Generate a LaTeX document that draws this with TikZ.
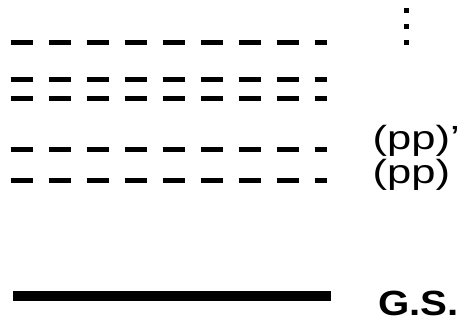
\documentclass[tikz,border=0pt]{standalone}
\usepackage{fontspec}
\setmainfont{Liberation Sans}
\newfontfamily\ppfont[FakeStretch=1.3]{Liberation Sans}
\newfontfamily\gsfont[FakeStretch=1.15]{Liberation Sans}
\begin{document}
\begin{tikzpicture}[x=1pt,y=-1pt,
  level/.style={line width=5pt, line cap=butt, dash pattern=on 22pt off 16pt},
  gsline/.style={line width=9.5pt, line cap=butt},
  lab/.style={anchor=base west, inner sep=0pt, font=\ppfont\fontsize{33.5}{33.5}\selectfont},
  gslab/.style={anchor=base west, inner sep=0pt, text depth=0pt, font=\gsfont\bfseries\fontsize{35}{35}\selectfont},
  dotsq/.style={fill=black, minimum size=5pt, inner sep=0pt, draw=none}]
\useasboundingbox (0,0) rectangle (460,321);
% dashed levels
\foreach \n/\y in {l1/42.3, l2/79.3, l3/98.7, l4/149.3, l5/180.7}{
  \coordinate (\n a) at (10.7,\y);
  \coordinate (\n b) at (327,\y);
  \draw[level] (\n a) -- (\n b);
}
% ground state
\coordinate (gsa) at (13.3,296);
\coordinate (gsb) at (330.5,296);
\draw[gsline] (gsa) -- (gsb);
% vertical dots
\node[dotsq] (d1) at (406,11) {};
\node[dotsq] (d2) at (406,27) {};
\node[dotsq] (d3) at (406,42.5) {};
% labels
\node[lab] (ppp) at (372.5,149.5) {(pp)’};
\node[lab] (pp) at (372.5,183.5) {(pp)};
\node[gslab] (gs) at (378,315) {G.S.};
\end{tikzpicture}
\end{document}
